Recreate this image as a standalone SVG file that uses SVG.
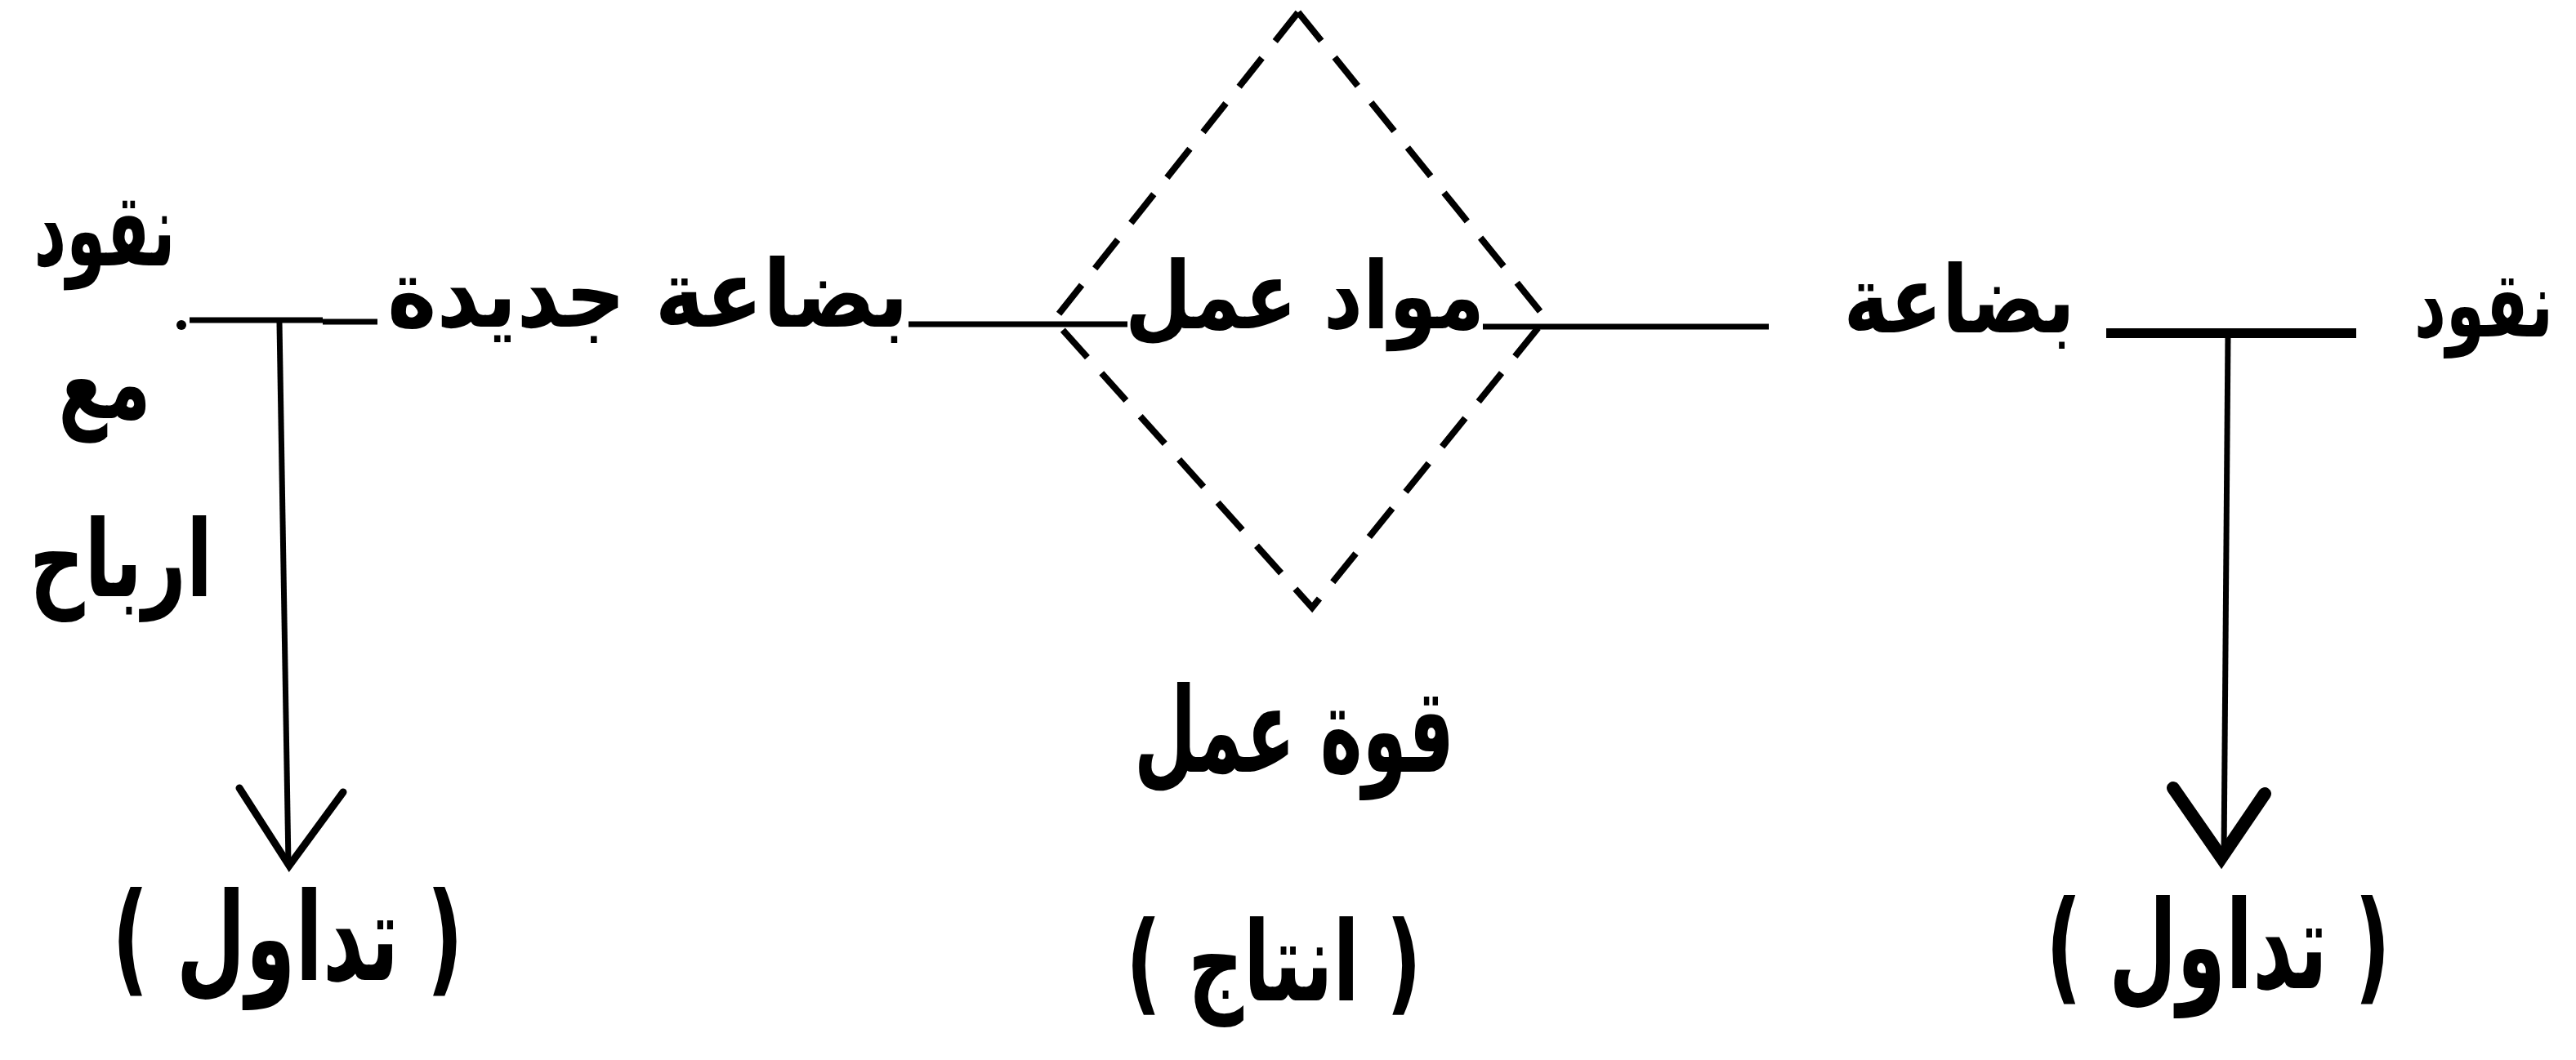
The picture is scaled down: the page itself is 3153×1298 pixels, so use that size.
<svg xmlns="http://www.w3.org/2000/svg" width="3153" height="1298" viewBox="0 0 3153 1298">
<style>
.t{font-family:"DejaVu Sans",sans-serif;font-size:115px;font-weight:bold;fill:#000;text-anchor:middle}
.ln{stroke:#000;stroke-width:7;fill:none}
.bold{stroke-width:12}
.dash{stroke:#000;stroke-width:8;fill:none;stroke-dasharray:45 26}
.head{stroke:#000;fill:none;stroke-linecap:round;stroke-linejoin:miter}
</style>
<rect width="3153" height="1298" fill="#fff"/>
<g id="connectors">
  <circle cx="222" cy="398" r="6" fill="#000"/>
  <line class="ln" x1="232" y1="392" x2="395" y2="392" stroke-width="11"/>
  <line class="ln" x1="395" y1="394" x2="462" y2="394"/>
  <line class="ln" x1="342" y1="395" x2="353" y2="1058"/>
  <polyline class="head" stroke-width="9" points="293,965 354,1060 420,970"/>
  <line class="ln" x1="1112" y1="397" x2="1380" y2="397"/>
  <line class="ln" x1="1815" y1="400" x2="2165" y2="400"/>
  <line class="ln bold" x1="2578" y1="408" x2="2884" y2="408"/>
  <line class="ln" x1="2727" y1="408" x2="2722" y2="1050"/>
  <polyline class="head" stroke-width="16" points="2660,965 2719,1050 2772,972"/>
</g>
<g id="node-money-left"><text class="t" x="128" y="325" style="font-size:125px" textLength="173" lengthAdjust="spacingAndGlyphs">نقود</text></g>
<g id="node-new-commodity"><text class="t" x="793" y="400" textLength="638" lengthAdjust="spacingAndGlyphs">بضاعة جديدة</text></g>
<g id="node-production">
  <polygon class="dash" points="1589,15 1892,390 1606,744 1290,392"/>
  <text class="t" x="1597" y="402" textLength="440" lengthAdjust="spacingAndGlyphs">مواد عمل</text>
</g>
<g id="node-commodity"><text class="t" x="2398" y="407" textLength="283" lengthAdjust="spacingAndGlyphs">بضاعة</text></g>
<g id="node-money-right"><text class="t" x="3040" y="412" style="font-size:112px" textLength="170" lengthAdjust="spacingAndGlyphs">نقود</text></g>
<g id="node-with-profits">
  <text class="t" x="128" y="512" style="font-size:125px" textLength="113" lengthAdjust="spacingAndGlyphs">مع</text>
  <text class="t" x="148" y="730" style="font-size:130px" textLength="224" lengthAdjust="spacingAndGlyphs">ارباح</text>
</g>
<g id="node-labour-power"><text class="t" x="1584" y="945" style="font-size:145px" textLength="392" lengthAdjust="spacingAndGlyphs">قوة عمل</text></g>
<g id="label-circulation-left"><text class="t" x="352" y="1200" style="font-size:150px" textLength="430" lengthAdjust="spacingAndGlyphs">( تداول )</text></g>
<g id="label-production"><text class="t" x="1559" y="1225" style="font-size:135px" textLength="362" lengthAdjust="spacingAndGlyphs">( انتاج )</text></g>
<g id="label-circulation-right"><text class="t" x="2715" y="1210" style="font-size:150px" textLength="422" lengthAdjust="spacingAndGlyphs">( تداول )</text></g>
</svg>
